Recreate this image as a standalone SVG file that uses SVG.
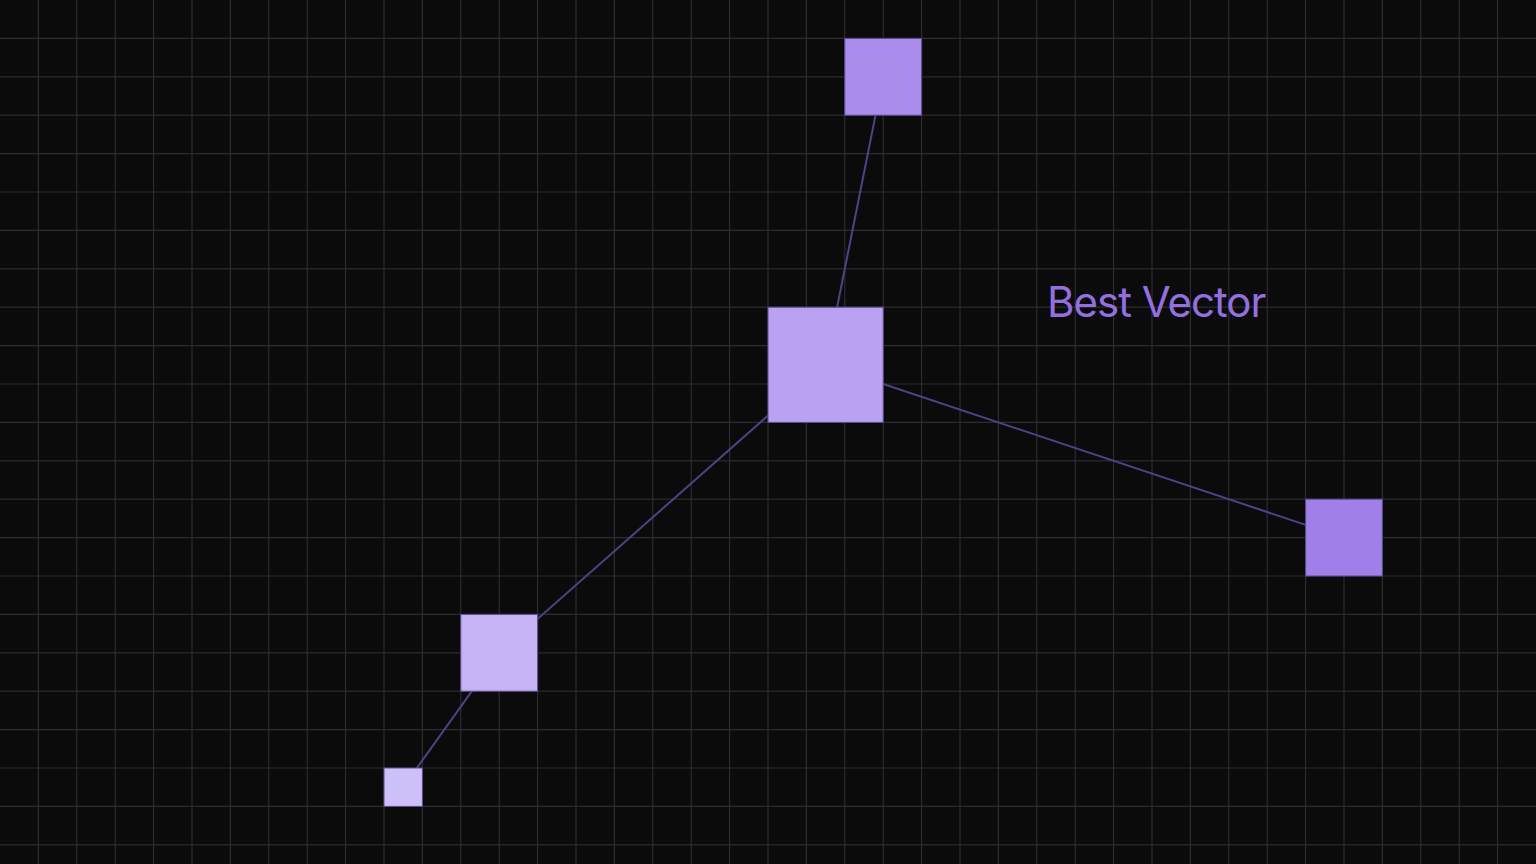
<svg xmlns="http://www.w3.org/2000/svg" width="1536" height="864" viewBox="0 0 1536 864">
<defs>
<style>
.grid{stroke:#2c2c31;stroke-width:1.2;fill:none}
.edge{stroke:#4d4385;stroke-width:2;fill:none}
.node{stroke:#5a4d8c;stroke-width:1}
.label{font-family:Inter,"Liberation Sans",sans-serif;font-size:42px;letter-spacing:-1px;fill:#9370e0}
</style>
</defs>
<rect width="1536" height="864" fill="#0b0b0b"/>
<path class="grid" d="M38.4 0V864M76.8 0V864M115.2 0V864M153.6 0V864M192 0V864M230.4 0V864M268.8 0V864M307.2 0V864M345.6 0V864M384 0V864M422.4 0V864M460.8 0V864M499.2 0V864M537.6 0V864M576 0V864M614.4 0V864M652.8 0V864M691.2 0V864M729.6 0V864M768 0V864M806.4 0V864M844.8 0V864M883.2 0V864M921.6 0V864M960 0V864M998.4 0V864M1036.8 0V864M1075.2 0V864M1113.6 0V864M1152 0V864M1190.4 0V864M1228.8 0V864M1267.2 0V864M1305.6 0V864M1344 0V864M1382.4 0V864M1420.8 0V864M1459.2 0V864M1497.6 0V864M0 38.4H1536M0 76.8H1536M0 115.2H1536M0 153.6H1536M0 192H1536M0 230.4H1536M0 268.8H1536M0 307.2H1536M0 345.6H1536M0 384H1536M0 422.4H1536M0 460.8H1536M0 499.2H1536M0 537.6H1536M0 576H1536M0 614.4H1536M0 652.8H1536M0 691.2H1536M0 729.6H1536M0 768H1536M0 806.4H1536M0 844.8H1536"/>
<g id="connectors">
<line class="edge" x1="883.2" y1="76.8" x2="825.6" y2="364.8"/>
<line class="edge" x1="825.6" y1="364.8" x2="1344" y2="537.6"/>
<line class="edge" x1="825.6" y1="364.8" x2="499.2" y2="652.8"/>
<line class="edge" x1="499.2" y1="652.8" x2="403.2" y2="787.2"/>
</g>
<g id="node-top"><rect class="node" x="844.8" y="38.4" width="76.8" height="76.8" fill="#a98cec"/></g>
<g id="node-center"><rect class="node" x="768" y="307.2" width="115.2" height="115.2" fill="#b9a2f2"/></g>
<g id="node-right"><rect class="node" x="1305.6" y="499.2" width="76.8" height="76.8" fill="#a07fe8"/></g>
<g id="node-lowerleft"><rect class="node" x="460.8" y="614.4" width="76.8" height="76.8" fill="#c6b3f5"/></g>
<g id="node-small"><rect class="node" x="384" y="768" width="38.4" height="38.4" fill="#cdc0f8"/></g>
<g id="label"><text class="label" x="1047" y="317">Best Vector</text></g>
</svg>
